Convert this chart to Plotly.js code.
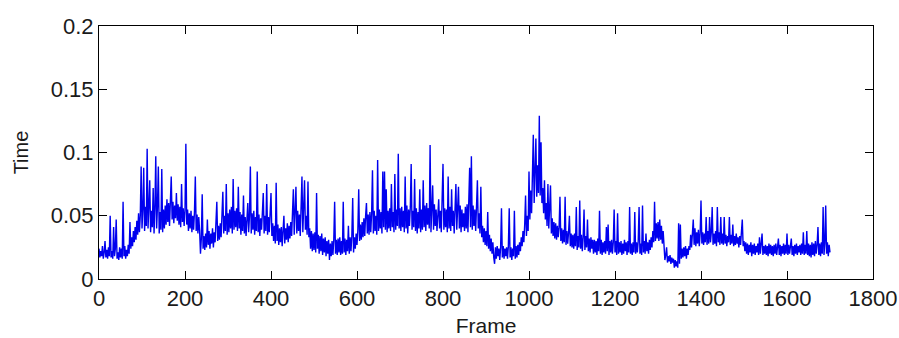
<!DOCTYPE html>
<html>
<head>
<meta charset="utf-8">
<script src="https://cdn.plot.ly/plotly-3.0.1.min.js"></script>
<style>html,body{margin:0;padding:0;background:#fff;}#chart{width:899px;height:338px;}</style>
</head>
<body>
<div id="chart"></div>
<script>
const frameStep = 2;
const time = [
  // 0-48
  0.024,0.017,0.022,0.018,0.026,0.016,0.021,0.030,0.017,0.023,0.016,0.025,0.018,0.050,0.017,0.022,0.016,0.041,0.018,0.024,0.047,0.016,0.021,0.015,0.025,
  // 50-98
  0.017,0.024,0.016,0.061,0.018,0.026,0.016,0.023,0.018,0.027,0.020,0.045,0.024,0.033,0.026,0.038,0.029,0.041,0.031,0.046,0.035,0.052,0.037,0.050,0.089,
  // 100-148
  0.040,0.055,0.088,0.038,0.057,0.042,0.103,0.040,0.058,0.078,0.037,0.054,0.041,0.072,0.036,0.056,0.097,0.040,0.058,0.089,0.036,0.053,0.039,0.087,0.037,
  // 150-198
  0.055,0.040,0.058,0.043,0.063,0.045,0.060,0.042,0.057,0.081,0.047,0.061,0.044,0.058,0.048,0.068,0.046,0.059,0.043,0.057,0.041,0.075,0.045,0.056,0.042,
  // 200-248
  0.054,0.107,0.043,0.055,0.038,0.052,0.040,0.054,0.037,0.050,0.039,0.053,0.081,0.038,0.051,0.036,0.049,0.038,0.020,0.032,0.067,0.024,0.034,0.023,0.036,
  // 250-298
  0.025,0.047,0.027,0.038,0.024,0.036,0.028,0.040,0.025,0.037,0.029,0.041,0.061,0.030,0.042,0.031,0.044,0.033,0.046,0.069,0.036,0.050,0.038,0.075,0.035,
  // 300-348
  0.052,0.037,0.055,0.040,0.057,0.036,0.079,0.039,0.054,0.041,0.056,0.038,0.073,0.040,0.053,0.035,0.051,0.038,0.066,0.036,0.049,0.034,0.052,0.060,0.037,
  // 350-398
  0.050,0.089,0.036,0.052,0.039,0.054,0.035,0.049,0.038,0.085,0.037,0.051,0.034,0.048,0.039,0.053,0.068,0.036,0.050,0.038,0.075,0.035,0.049,0.037,0.052,
  // 400-448
  0.068,0.034,0.044,0.030,0.042,0.028,0.076,0.030,0.043,0.027,0.040,0.029,0.041,0.026,0.038,0.050,0.028,0.040,0.031,0.044,0.029,0.042,0.032,0.045,0.034,
  // 450-498
  0.048,0.071,0.035,0.052,0.073,0.036,0.054,0.038,0.051,0.034,0.055,0.081,0.037,0.053,0.078,0.039,0.050,0.035,0.077,0.033,0.040,0.024,0.038,0.022,0.036,
  // 500-548
  0.023,0.037,0.021,0.068,0.024,0.035,0.020,0.034,0.022,0.036,0.019,0.032,0.021,0.033,0.018,0.030,0.020,0.031,0.015,0.028,0.018,0.030,0.019,0.031,0.061,
  // 550-598
  0.020,0.031,0.019,0.032,0.021,0.033,0.019,0.030,0.020,0.061,0.021,0.032,0.019,0.031,0.022,0.042,0.020,0.033,0.022,0.034,0.064,0.021,0.033,0.024,0.036,
  // 600-648
  0.027,0.039,0.071,0.030,0.043,0.031,0.045,0.033,0.048,0.034,0.050,0.060,0.036,0.051,0.035,0.053,0.037,0.052,0.086,0.036,0.054,0.038,0.050,0.035,0.094,
  // 650-698
  0.038,0.055,0.040,0.053,0.036,0.085,0.041,0.085,0.039,0.071,0.037,0.054,0.040,0.056,0.038,0.075,0.041,0.053,0.037,0.083,0.039,0.055,0.042,0.099,0.040,
  // 700-748
  0.056,0.038,0.057,0.041,0.054,0.037,0.081,0.040,0.058,0.036,0.055,0.042,0.057,0.091,0.039,0.054,0.041,0.079,0.038,0.056,0.036,0.053,0.040,0.071,0.037,
  // 750-798
  0.055,0.039,0.078,0.041,0.058,0.038,0.060,0.043,0.056,0.040,0.106,0.037,0.057,0.074,0.039,0.059,0.042,0.055,0.038,0.057,0.063,0.040,0.054,0.037,0.056,
  // 800-848
  0.091,0.039,0.056,0.041,0.055,0.037,0.081,0.040,0.057,0.038,0.071,0.042,0.054,0.036,0.056,0.075,0.039,0.053,0.073,0.040,0.058,0.037,0.055,0.041,0.052,
  // 850-898
  0.038,0.057,0.040,0.059,0.037,0.056,0.088,0.041,0.097,0.039,0.058,0.042,0.055,0.038,0.060,0.078,0.040,0.052,0.036,0.073,0.033,0.042,0.029,0.040,0.027,
  // 900-948
  0.038,0.026,0.053,0.024,0.035,0.022,0.032,0.020,0.029,0.017,0.012,0.025,0.016,0.026,0.018,0.024,0.015,0.025,0.056,0.017,0.026,0.016,0.024,0.018,0.025,
  // 950-998
  0.016,0.026,0.056,0.017,0.025,0.015,0.024,0.018,0.054,0.016,0.026,0.017,0.027,0.019,0.029,0.022,0.033,0.026,0.038,0.029,0.043,0.066,0.034,0.050,0.038,
  // 1000-1048
  0.085,0.047,0.070,0.052,0.078,0.114,0.060,0.085,0.111,0.065,0.090,0.068,0.129,0.066,0.108,0.060,0.072,0.052,0.078,0.047,0.060,0.042,0.075,0.040,0.052,
  // 1050-1098
  0.074,0.036,0.048,0.034,0.045,0.032,0.044,0.031,0.042,0.033,0.041,0.065,0.030,0.040,0.028,0.039,0.029,0.065,0.027,0.038,0.028,0.037,0.050,0.026,0.036,
  // 1100-1148
  0.025,0.035,0.024,0.036,0.026,0.057,0.023,0.034,0.025,0.062,0.024,0.035,0.022,0.033,0.055,0.023,0.034,0.025,0.047,0.022,0.032,0.021,0.033,0.024,0.031,
  // 1150-1198
  0.020,0.031,0.021,0.030,0.019,0.032,0.022,0.054,0.020,0.031,0.019,0.029,0.021,0.030,0.020,0.041,0.022,0.043,0.019,0.030,0.021,0.031,0.020,0.029,0.055,
  // 1200-1248
  0.021,0.030,0.019,0.052,0.020,0.029,0.021,0.030,0.019,0.028,0.020,0.031,0.022,0.029,0.019,0.030,0.021,0.057,0.020,0.028,0.019,0.029,0.021,0.053,0.020,
  // 1250-1298
  0.029,0.021,0.030,0.057,0.020,0.028,0.019,0.058,0.021,0.030,0.020,0.036,0.022,0.029,0.020,0.031,0.023,0.033,0.025,0.038,0.029,0.061,0.030,0.044,0.032,
  // 1300-1348
  0.045,0.030,0.047,0.031,0.042,0.028,0.038,0.019,0.015,0.019,0.025,0.013,0.018,0.014,0.019,0.012,0.017,0.013,0.016,0.009,0.015,0.010,0.014,0.009,0.044,
  // 1350-1398
  0.012,0.043,0.016,0.024,0.017,0.025,0.018,0.026,0.016,0.024,0.019,0.026,0.023,0.035,0.025,0.038,0.047,0.027,0.040,0.026,0.037,0.028,0.039,0.026,0.036,
  // 1400-1448
  0.062,0.028,0.037,0.027,0.036,0.029,0.049,0.027,0.038,0.028,0.049,0.029,0.037,0.057,0.027,0.036,0.028,0.038,0.026,0.057,0.029,0.037,0.027,0.049,0.028,
  // 1450-1498
  0.036,0.027,0.049,0.028,0.035,0.026,0.034,0.029,0.049,0.027,0.035,0.028,0.043,0.026,0.034,0.027,0.036,0.028,0.033,0.025,0.034,0.027,0.035,0.047,0.026,
  // 1500-1548
  0.030,0.022,0.029,0.020,0.028,0.019,0.027,0.021,0.029,0.018,0.027,0.020,0.028,0.019,0.026,0.021,0.028,0.019,0.033,0.020,0.027,0.036,0.019,0.026,0.020,
  // 1550-1598
  0.027,0.019,0.026,0.018,0.028,0.020,0.027,0.019,0.026,0.018,0.027,0.020,0.028,0.019,0.026,0.032,0.019,0.027,0.018,0.026,0.020,0.028,0.019,0.027,0.020,
  // 1600-1648
  0.036,0.019,0.027,0.020,0.028,0.032,0.019,0.026,0.018,0.027,0.020,0.028,0.019,0.026,0.021,0.027,0.019,0.028,0.020,0.037,0.019,0.027,0.020,0.038,0.019,
  // 1650-1700
  0.028,0.018,0.027,0.017,0.029,0.019,0.028,0.018,0.030,0.020,0.027,0.041,0.019,0.028,0.018,0.029,0.020,0.057,0.019,0.028,0.058,0.020,0.029,0.018,0.027,0.021
];
const frames = time.map((_, i) => i * frameStep);
const xTicks = [0, 200, 400, 600, 800, 1000, 1200, 1400, 1600, 1800];
const yTicks = [0, 0.05, 0.1, 0.15, 0.2];
const yTickText = ['0', '0.05', '0.1', '0.15', '0.2'];

const fontFam = 'Liberation Sans, Arial, sans-serif';
const textColor = '#1a1a1a';
const trace = {
  x: frames, y: time, type: 'scatter', mode: 'lines',
  line: {color: '#0000ee', width: 1.4},
  hoverinfo: 'none'
};
const axisCommon = {
  showline: true, linecolor: '#000', linewidth: 1, mirror: 'ticks',
  ticks: 'inside', ticklen: 8, tickwidth: 1, tickcolor: '#000',
  showgrid: false, zeroline: false,
  tickfont: {family: fontFam, size: 22, color: textColor}
};
const layout = {
  width: 899, height: 338,
  margin: {l: 99, r: 26, t: 26, b: 59},
  paper_bgcolor: '#fff', plot_bgcolor: '#fff',
  showlegend: false,
  xaxis: Object.assign({}, axisCommon, {
    range: [0, 1800], tickmode: 'array', tickvals: xTicks,
    title: {text: 'Frame', font: {family: fontFam, size: 21, color: textColor}, standoff: 7}
  }),
  yaxis: Object.assign({}, axisCommon, {
    range: [0, 0.2], tickmode: 'array', tickvals: yTicks, ticktext: yTickText,
    title: {text: 'Time', font: {family: fontFam, size: 20, color: textColor}, standoff: 16}
  })
};
Plotly.newPlot('chart', [trace], layout, {displayModeBar: false, staticPlot: true});
</script>
</body>
</html>
